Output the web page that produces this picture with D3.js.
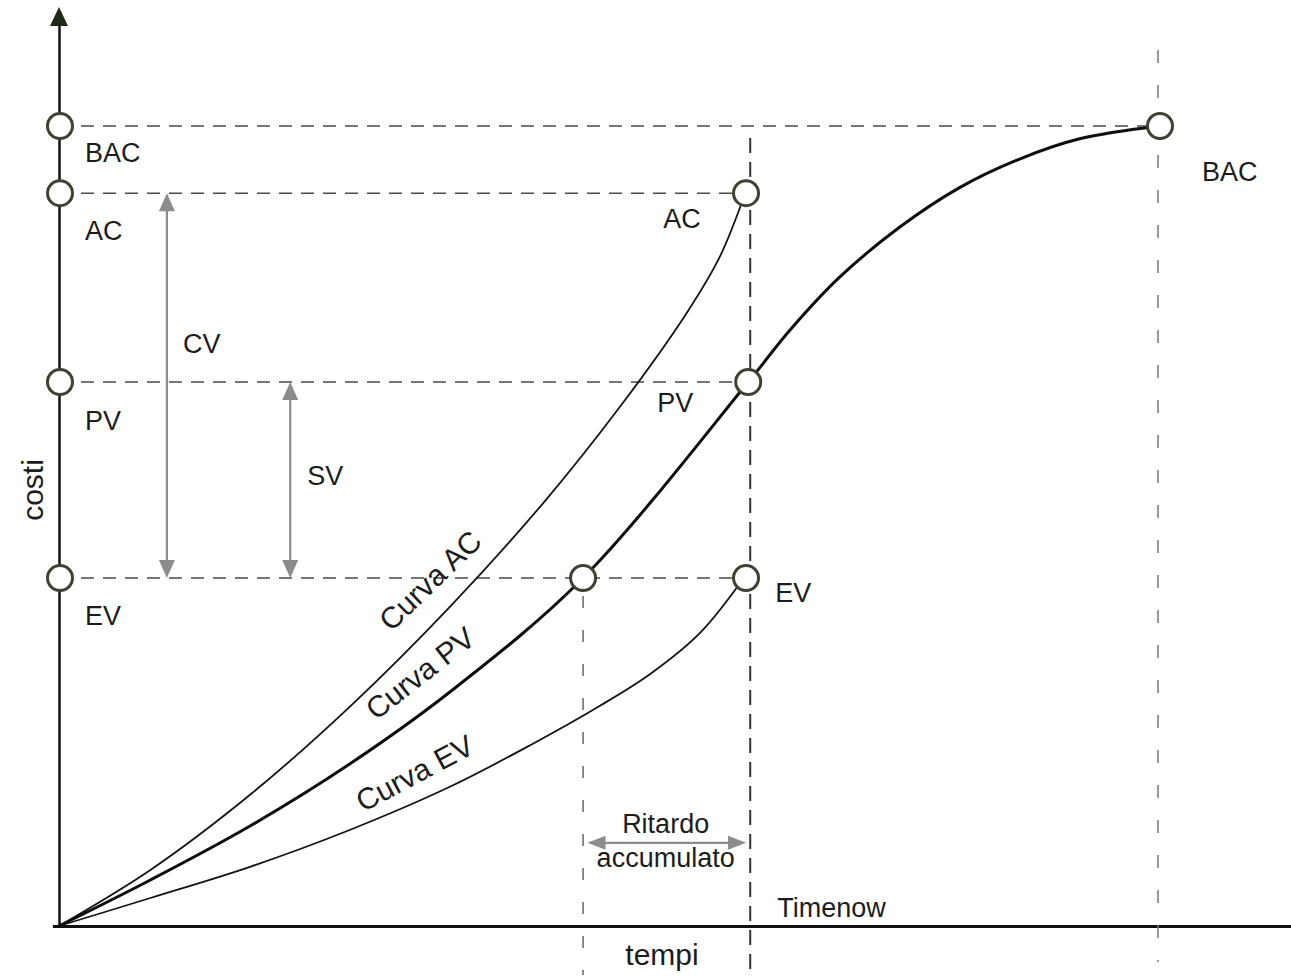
<!DOCTYPE html>
<html>
<head>
<meta charset="utf-8">
<script src="https://cdn.jsdelivr.net/npm/d3@7/dist/d3.min.js"></script>
<style>
  html, body { margin: 0; padding: 0; background: #fff; }
  svg text { font-family: "Liberation Sans", Arial, Helvetica, sans-serif; fill: #1c1c1c; }
</style>
</head>
<body>
<svg id="chart" width="1291" height="980"></svg>
<script>
// ---------- data (time units: BAC time = 100; cost units: BAC = 100) ----------
const axisTitles = { x: "tempi", y: "costi" };
const levelNames = ["BAC", "AC", "PV", "EV"];
const levelValues = [100, 91.6, 68, 43.5];
const timenow = 62.6;
const delayStart = 47.6;
const bacTime = 100;
const curveNames = ["Curva AC", "Curva PV", "Curva EV"];
const acCurve = [[0,0],[8.3,7.0],[17.35,16.4],[26.4,27.4],[35.5,39.9],[44,52.9],[50.95,64.9],[57,76.6],[60,83.6],[62.3,91.5]];
const pvCurve = [[0,0],[8.3,5.75],[17.35,12.5],[26.4,20.25],[35.5,29.25],[47.6,43.5],[62.6,68],[66.4,74.5],[70.9,81.1],[76.4,87.4],[81.8,92.3],[87.3,95.9],[92.7,98.4],[100,100]];
const evCurve = [[0,0],[8.3,3.5],[17.35,7.4],[26.4,12],[35.5,17.4],[42.8,22.6],[49.1,27.5],[53.7,31.5],[58.2,36.6],[62.2,43.5]];
const cvLabel = "CV", svLabel = "SV";
const delayLabel = ["Ritardo", "accumulato"];
const timenowLabel = "Timenow";

// ---------- scales ----------
const svg = d3.select("#chart");
const x = d3.scaleLinear().domain([0, 100]).range([59, 1160]);
const y = d3.scaleLinear().domain([0, 100]).range([926, 126]);
const lv = name => levelValues[levelNames.indexOf(name)];

// ---------- axes (no ticks) ----------
const xAxisScale = d3.scaleLinear().domain([-0.6, x.invert(1291)]).range([x(-0.6), 1291]);
const yAxisScale = d3.scaleLinear().domain([0, y.invert(24)]).range([y(0), 24]);
svg.append("g").attr("transform", `translate(0,${y(0)})`)
  .call(d3.axisBottom(xAxisScale).tickValues([]).tickSizeOuter(0))
  .select(".domain").attr("stroke", "#111").attr("stroke-width", 3);
svg.append("g").attr("transform", `translate(${x(0)},0)`)
  .call(d3.axisLeft(yAxisScale).tickValues([]).tickSizeOuter(0))
  .select(".domain").attr("stroke", "#111").attr("stroke-width", 2.5);
svg.append("path")
  .attr("d", `M${x(0)},${7} L${x(0)-9},${26} L${x(0)+9},${26} Z`)
  .attr("fill", "#1d2a1a");

// ---------- guide lines ----------
const guides = svg.append("g").attr("fill", "none");
const hEnds = { BAC: bacTime, AC: timenow, PV: timenow, EV: timenow };
levelNames.forEach(n => {
  guides.append("line")
    .attr("x1", x(0) + 22).attr("x2", x(hEnds[n]) - 12)
    .attr("y1", y(lv(n))).attr("y2", y(lv(n)))
    .attr("stroke", "#4a4a4a").attr("stroke-width", 1.6)
    .attr("stroke-dasharray", "13,9");
});
guides.append("line")
  .attr("x1", x(timenow) + 2).attr("x2", x(timenow) + 2)
  .attr("y1", y(98.5)).attr("y2", 975)
  .attr("stroke", "#333").attr("stroke-width", 2)
  .attr("stroke-dasharray", "15,9");
guides.append("line")
  .attr("x1", x(delayStart)).attr("x2", x(delayStart))
  .attr("y1", y(lv("EV")) + 18).attr("y2", 975)
  .attr("stroke", "#666").attr("stroke-width", 1.5)
  .attr("stroke-dasharray", "12,22");
guides.append("line")
  .attr("x1", x(bacTime) - 2).attr("x2", x(bacTime) - 2)
  .attr("y1", 50).attr("y2", 962)
  .attr("stroke", "#777").attr("stroke-width", 1.5)
  .attr("stroke-dasharray", "13,22");

// ---------- double arrows (grey) ----------
const arrowColor = "#8c8c8c";
function doubleArrowV(tx, c1, c2) {
  const px = x(tx), yTop = y(c1), yBot = y(c2);
  svg.append("line").attr("x1", px).attr("x2", px).attr("y1", yTop + 10).attr("y2", yBot - 10)
    .attr("stroke", arrowColor).attr("stroke-width", 2.2);
  svg.append("path").attr("d", `M${px},${yTop} L${px-8},${yTop+18} L${px+8},${yTop+18} Z`).attr("fill", arrowColor);
  svg.append("path").attr("d", `M${px},${yBot} L${px-8},${yBot-18} L${px+8},${yBot-18} Z`).attr("fill", arrowColor);
}
function doubleArrowH(t1, t2, c) {
  const py = y(c), xl = x(t1), xr = x(t2);
  svg.append("line").attr("x1", xl + 10).attr("x2", xr - 10).attr("y1", py).attr("y2", py)
    .attr("stroke", arrowColor).attr("stroke-width", 2.2);
  svg.append("path").attr("d", `M${xl},${py} L${xl+18},${py-7} L${xl+18},${py+7} Z`).attr("fill", arrowColor);
  svg.append("path").attr("d", `M${xr},${py} L${xr-18},${py-7} L${xr-18},${py+7} Z`).attr("fill", arrowColor);
}
doubleArrowV(9.8, lv("AC"), lv("EV"));
doubleArrowV(21, lv("PV"), lv("EV"));
doubleArrowH(delayStart + 0.4, timenow - 0.2, 10.4);

// ---------- curves ----------
const line = d3.line().x(d => x(d[0])).y(d => y(d[1])).curve(d3.curveCatmullRom.alpha(0.5));
svg.append("path").datum(acCurve).attr("d", line).attr("fill", "none").attr("stroke", "#141414").attr("stroke-width", 1.8);
svg.append("path").datum(evCurve).attr("d", line).attr("fill", "none").attr("stroke", "#141414").attr("stroke-width", 1.8);
svg.append("path").datum(pvCurve).attr("d", line).attr("fill", "none").attr("stroke", "#0e0e0e").attr("stroke-width", 3);

// ---------- circles ----------
const circlePts = [];
levelNames.forEach(n => circlePts.push([0, lv(n)]));
circlePts.push([timenow - 0.2, lv("AC")], [timenow, lv("PV")], [timenow - 0.2, lv("EV")]);
circlePts.push([delayStart, lv("EV")], [bacTime, lv("BAC")]);
svg.append("g").selectAll("circle").data(circlePts).join("circle")
  .attr("cx", d => x(d[0]) + (d[0] === 0 ? 1 : 0)).attr("cy", d => y(d[1]))
  .attr("r", 12.5).attr("fill", "#fff").attr("stroke", "#3c4234").attr("stroke-width", 3);

// ---------- texts ----------
const fs = 27;
const axisLabelDy = { BAC: 36, AC: 47, PV: 48, EV: 47 };
levelNames.forEach(n => {
  svg.append("text").attr("x", x(0) + 26).attr("y", y(lv(n)) + axisLabelDy[n])
    .attr("font-size", fs).text(n);
});
svg.append("text").attr("x", x(timenow) - 85).attr("y", y(lv("AC")) + 35).attr("font-size", fs).text("AC");
svg.append("text").attr("x", x(timenow) - 91).attr("y", y(lv("PV")) + 30).attr("font-size", fs).text("PV");
svg.append("text").attr("x", x(timenow) + 27).attr("y", y(lv("EV")) + 24).attr("font-size", fs).text("EV");
svg.append("text").attr("x", x(bacTime) + 42).attr("y", y(lv("BAC")) + 55).attr("font-size", fs).text("BAC");
svg.append("text").attr("x", x(9.8) + 16).attr("y", y(lv("PV")) - 29).attr("font-size", fs).text(cvLabel);
svg.append("text").attr("x", x(21) + 17).attr("y", (y(lv("PV")) + y(lv("EV"))) / 2 + 5).attr("font-size", fs).text(svLabel);
const midDelay = (x(delayStart) + x(timenow)) / 2;
svg.append("text").attr("x", midDelay).attr("y", y(10.4) - 10).attr("text-anchor", "middle").attr("font-size", fs).text(delayLabel[0]);
svg.append("text").attr("x", midDelay).attr("y", y(10.4) + 24).attr("text-anchor", "middle").attr("font-size", fs).text(delayLabel[1]);
svg.append("text").attr("x", x(timenow) + 29).attr("y", y(0) - 9).attr("font-size", fs).text(timenowLabel);
svg.append("text").attr("x", 662).attr("y", y(0) + 39).attr("text-anchor", "middle").attr("font-size", 30).text(axisTitles.x);
svg.append("text").attr("transform", `translate(43,${490}) rotate(-90)`).attr("text-anchor", "middle").attr("font-size", 30).text(axisTitles.y);
const curveLabelPos = [[33.7, 43.2, -44], [32.8, 31.6, -38], [32.3, 19.1, -28]];
curveNames.forEach((n, i) => {
  const p = curveLabelPos[i];
  svg.append("text")
    .attr("transform", `translate(${x(p[0])},${y(p[1])}) rotate(${p[2]})`)
    .attr("text-anchor", "middle").attr("dy", "0.35em").attr("font-size", 30).text(n);
});
</script>
</body>
</html>
